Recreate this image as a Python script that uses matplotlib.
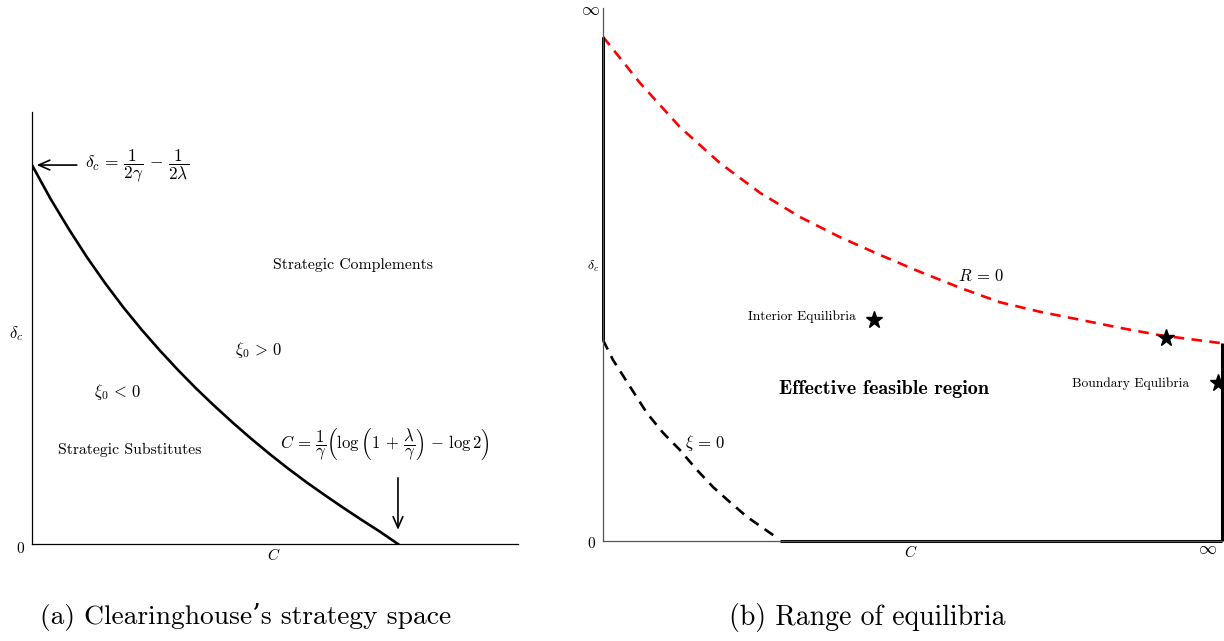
import numpy as np
import matplotlib
matplotlib.use("Agg")
import matplotlib.pyplot as plt

plt.rcParams['mathtext.fontset'] = 'cm'
plt.rcParams['font.family'] = ['cmr10', 'DejaVu Serif']
plt.rcParams['axes.unicode_minus'] = False

# left panel: boundary between substitutes and complements (C, delta_c)
cut_x = [0, .05, .10, .15, .20, .25, .30, .35, .40, .45, .50, .55, .60, .65,
         .70, .75, .80, .85, .90, .95, 1.0]
cut_y = [1, .912, .832, .757, .688, .624, .565, .510, .458, .409, .363, .319,
         .277, .237, .199, .163, .129, .096, .064, .033, 0]

# right panel: R = 0 (red) and xi = 0 (black) curves
r0_x = [0, .060, .124, .189, .254, .318, .383, .447, .512, .577, .641, .706,
        .771, .835, .900, 1.0]
r0_y = [.946, .859, .777, .709, .653, .608, .570, .537, .505, .475, .448,
        .430, .415, .400, .386, .371]
xi_x = [0, .016, .044, .071, .097, .124, .152, .178, .205, .233, .275]
xi_y = [.377, .340, .289, .240, .203, .171, .133, .101, .073, .045, .011]

# feasible region edges
edge_left = ([0, 0], [.377, .946])
edge_bottom = ([.286, 1], [0, 0])
edge_right = ([1, 1], [0, .371])

# equilibria markers
eq_x = [.438, .909, .994]
eq_y = [.415, .381, .296]

fig = plt.figure(figsize=(12.24, 6.41), dpi=100)

# ---------- (a) ----------
ax = fig.add_axes([32/1224, 97/641, 486/1224, 432/641])
ax.plot(cut_x, cut_y, color='black', lw=1.9)
ax.set_xlim(0, 1.328)
ax.set_ylim(0, 1.140)
for s in ['top', 'right']:
    ax.spines[s].set_visible(False)
for s in ['left', 'bottom']:
    ax.spines[s].set_linewidth(0.9)
ax.set_xticks([])
ax.set_yticks([])

ax.annotate('', xy=(0.005, 1.0), xytext=(0.13, 1.0),
            arrowprops=dict(arrowstyle='->,head_length=0.8,head_width=0.35', lw=1.2, color='black'))
ax.text(0.145, 1.0, r'$\delta_c\,=\,\dfrac{1}{2\gamma}\,-\,\dfrac{1}{2\lambda}$',
        fontsize=12.5, va='center', ha='left')
ax.text(0.878, 0.735, 'Strategic Complements', fontsize=11.3, ha='center', va='center')
ax.text(0.62, 0.513, r'$\xi_0\,>\,0$', fontsize=12, ha='center', va='center')
ax.text(0.233, 0.40, r'$\xi_0\,<\,0$', fontsize=12, ha='center', va='center')
ax.text(0.268, 0.248, 'Strategic Substitutes', fontsize=11.3, ha='center', va='center')
ax.text(0.965, 0.262,
        r'$C\,=\,\dfrac{1}{\gamma}\left(\log\left(1\,+\,\dfrac{\lambda}{\gamma}\right)\,-\,\log 2\right)$',
        fontsize=12, ha='center', va='center')
ax.annotate('', xy=(1.0, 0.03), xytext=(1.0, 0.182),
            arrowprops=dict(arrowstyle='->,head_length=0.8,head_width=0.35', lw=1.2, color='black'))
ax.text(-0.033, -0.013, '0', fontsize=11, ha='center', va='center')
ax.text(0.66, -0.03, r'$C$', fontsize=11, ha='center', va='center')
ax.text(-0.044, 0.556, r'$\delta_c$', fontsize=12, ha='center', va='center')

fig.text(40/1224, 1 - 617/641, u'(a) Clearinghouse\u2019s strategy space', fontsize=19.8,
         ha='left', va='center')

# ---------- (b) ----------
bx = fig.add_axes([603/1224, 100/641, 619/1224, 533/641])
bx.plot(r0_x, r0_y, color='red', lw=1.9, dashes=(4, 2.8), clip_on=False)
bx.plot(xi_x, xi_y, color='black', lw=1.9, dashes=(4, 2.8), clip_on=False)
for ex, ey in [edge_left, edge_bottom, edge_right]:
    bx.plot(ex, ey, color='black', lw=2.2, solid_capstyle='butt', clip_on=False)
bx.plot(eq_x, eq_y, linestyle='none', marker='*', markersize=12.5, color='black', clip_on=False)
bx.set_xlim(0, 1)
bx.set_ylim(0, 1)
for s in ['top', 'right']:
    bx.spines[s].set_visible(False)
for s in ['left', 'bottom']:
    bx.spines[s].set_linewidth(0.9)
    bx.spines[s].set_color('#555555')
bx.set_xticks([])
bx.set_yticks([])

bx.text(.409, .420, 'Interior Equilibria', fontsize=9.7, ha='right', va='center')
bx.text(.610, .497, r'$R\,=\,0$', fontsize=12, ha='center', va='center')
bx.text(.454, .286, 'Effective feasible region', fontsize=14.5, ha='center', va='center',
        family='cmb10')
bx.text(.853, .296, 'Boundary Equlibria', fontsize=9.7, ha='center', va='center')
bx.text(.166, .184, r'$\xi\,=\,0$', fontsize=12, ha='center', va='center')
bx.text(-.019, -.006, '0', fontsize=11, ha='center', va='center')
bx.text(-.021, .996, r'$\infty$', fontsize=13, ha='center', va='center')
bx.text(.977, -.016, r'$\infty$', fontsize=13, ha='center', va='center')
bx.text(.497, -.02, r'$C$', fontsize=11, ha='center', va='center')
bx.text(-.016, .515, r'$\delta_c$', fontsize=10, ha='center', va='center')

fig.text(867/1224, 1 - 617/641, '(b) Range of equilibria', fontsize=20,
         ha='center', va='center')

fig.savefig('out.png', dpi=100)
